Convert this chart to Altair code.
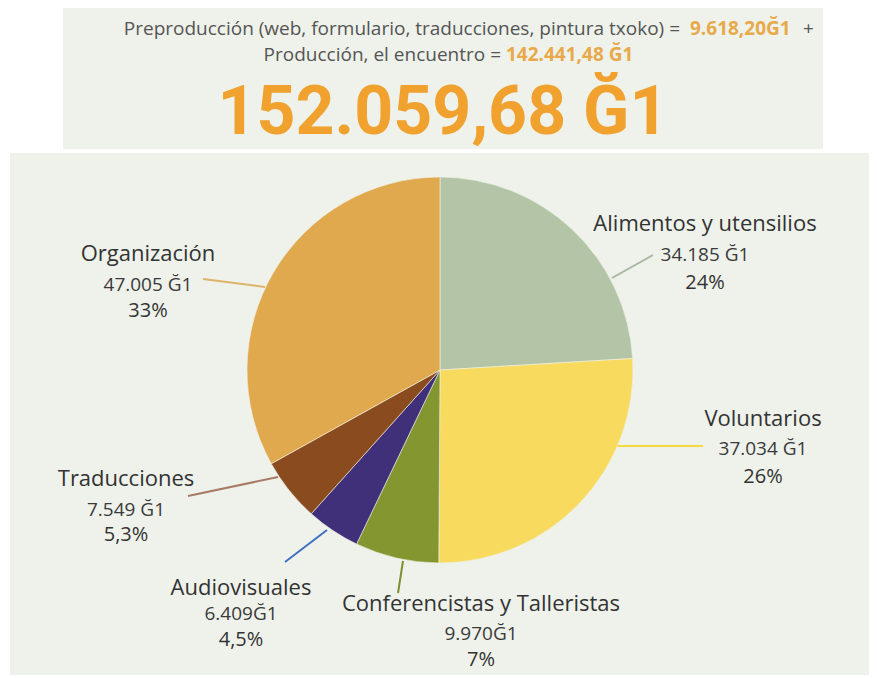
import altair as alt
import pandas as pd

# ---------------- data ----------------
categorias = ["Alimentos y utensilios", "Voluntarios", "Conferencistas y Talleristas",
              "Audiovisuales", "Traducciones", "Organización"]
valores = [34185, 37034, 9970, 6409, 7549, 47005]
textos_valor = ["34.185 Ğ1", "37.034 Ğ1", "9.970Ğ1", "6.409Ğ1", "7.549 Ğ1", "47.005 Ğ1"]
textos_pct = ["24%", "26%", "7%", "4,5%", "5,3%", "33%"]

cab_linea1 = "Preproducción (web, formulario, traducciones, pintura txoko) ="
cab_valor1 = "9.618,20Ğ1"
cab_mas = "+"
cab_linea2 = "Producción, el encuentro ="
cab_valor2 = "142.441,48 Ğ1"
total_txt = "152.059,68 Ğ1"

# ---------------- styles / layout ----------------
colores = ["#b4c4a7", "#f8da5e", "#83962f", "#40307a", "#8a4b1f", "#e1a94e"]
colores_guia = ["#a9b5a2", "#f6d93c", "#7d8f2c", "#3b6fc2", "#a87a66", "#e0b36a"]
OX, OY = 8, 8  # page margin
CX, CY, R = 440 - OX, 367 - OY, 193

# label anchor (center x, baselines of three lines) in page pixels
etiq_x = [705, 763, 481, 241, 126, 148]
etiq_y1 = [228, 423, 608, 592, 483, 258]
etiq_y2 = [258, 452, 637, 617, 513, 288]
etiq_y3 = [286, 480, 663, 643, 538, 314]
# leader lines (page pixels)
guia_x1 = [612, 617, 403, 327, 278, 265]
guia_y1 = [275, 443, 558, 527, 474, 284]
guia_x2 = [653, 703, 398, 285, 188, 203]
guia_y2 = [252, 443, 590, 559, 493, 276]

W, H = 861, 667
FONT = "Open Sans"
BG = "#eef2ea"

df = pd.DataFrame({
    "categoria": categorias,
    "valor": valores,
    "orden": list(range(len(categorias))),
})

lab = pd.DataFrame({
    "categoria": categorias,
    "vtxt": textos_valor,
    "ptxt": textos_pct,
    "x": [v - OX for v in etiq_x],
    "y1": [v - OY for v in etiq_y1],
    "y2": [v - OY for v in etiq_y2],
    "y3": [v - OY for v in etiq_y3],
    "gx1": [v - OX for v in guia_x1],
    "gy1": [v - OY for v in guia_y1],
    "gx2": [v - OX for v in guia_x2],
    "gy2": [v - OY for v in guia_y2],
    "gcol": colores_guia,
})

one = pd.DataFrame({"k": [0]})

def rect(x1, y1, x2, y2):
    return alt.Chart(one).mark_rect(color=BG).encode(
        x=alt.value(x1 - OX), x2=alt.value(x2 - OX),
        y=alt.value(y1 - OY), y2=alt.value(y2 - OY))

fondo_cab = rect(63, 5, 823, 146)
fondo_panel = rect(10, 150, 876, 676)

def texto(s, x, y, size, color, align, weight="normal", font=FONT):
    return alt.Chart(one).mark_text(
        text=s, fontSize=size, color=color, align=align, baseline="alphabetic",
        font=font, fontWeight=weight
    ).encode(x=alt.value(x - OX), y=alt.value(y - OY))

GRIS = "#555555"
NAR = "#e8a94a"
HS = 19
t1 = texto(cab_linea1, 680, 32, HS, GRIS, "right")
t2 = texto(cab_valor1, 690, 32, HS, NAR, "left", "bold")
t3 = texto(cab_mas, 803, 32, HS, GRIS, "left")
t4 = texto(cab_linea2, 501, 58, HS, GRIS, "right")
t5 = texto(cab_valor2, 506, 58, HS, NAR, "left", "bold")
t6 = texto(total_txt, 443, 131, 68, "#f0a12e", "center", "bold", "Roboto")

pie = alt.Chart(df).mark_arc(outerRadius=R, stroke="#eef2ea", strokeWidth=0.6).encode(
    theta=alt.Theta("valor:Q", stack=True),
    color=alt.Color("categoria:N", scale=alt.Scale(domain=categorias, range=colores), legend=None),
    order=alt.Order("orden:Q"),
    x=alt.value(CX), y=alt.value(CY),
)

guias = alt.Chart(lab).mark_rule(strokeWidth=2).encode(
    x=alt.X("gx1:Q", scale=None), y=alt.Y("gy1:Q", scale=None),
    x2="gx2:Q", y2="gy2:Q",
    color=alt.Color("gcol:N", scale=None),
)

base_lab = alt.Chart(lab)
l1 = base_lab.mark_text(fontSize=22, font=FONT, color="#333333", baseline="alphabetic").encode(
    x=alt.X("x:Q", scale=None), y=alt.Y("y1:Q", scale=None), text="categoria:N")
l2 = base_lab.mark_text(fontSize=19, font=FONT, color="#3a3a3a", baseline="alphabetic").encode(
    x=alt.X("x:Q", scale=None), y=alt.Y("y2:Q", scale=None), text="vtxt:N")
l3 = base_lab.mark_text(fontSize=20, font=FONT, color="#333333", baseline="alphabetic").encode(
    x=alt.X("x:Q", scale=None), y=alt.Y("y3:Q", scale=None), text="ptxt:N")

chart = alt.layer(
    fondo_cab, fondo_panel, t1, t2, t3, t4, t5, t6, guias, pie, l1, l2, l3
).properties(
    width=W, height=H, padding=0,
    autosize=alt.AutoSizeParams(type="fit", contains="padding"),
    background="white",
).configure_view(stroke=None)

chart.save("out.html", embed_options={"renderer": "svg", "actions": False})
